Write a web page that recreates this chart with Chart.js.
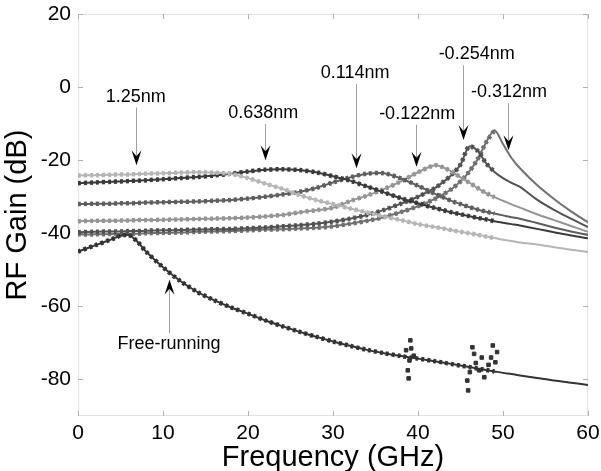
<!DOCTYPE html>
<html>
<head>
<meta charset="utf-8">
<script src="https://cdn.jsdelivr.net/npm/chart.js@4.4.1/dist/chart.umd.min.js"></script>
<style>
  html, body { margin: 0; padding: 0; background: #ffffff; }
  #wrap { width: 601px; height: 471px; }
</style>
</head>
<body>
<div id="wrap"><canvas id="c" width="601" height="471"></canvas></div>
<script>
// ---------- DATA ----------
const freqGHz = [0,2,4,5,6,7,8,10,12,14,16,18,20,22,24,26,28,30,32,34,36,38,40,42,43,44,45,46,47,48,49,50,51,52,54,56,58,60];

const gainFree = [-45,-43.3,-41.6,-40.7,-40.5,-42.3,-45,-49.3,-53,-56,-58.3,-60.3,-62,-63.8,-65.4,-66.9,-68.3,-69.6,-70.8,-71.9,-72.8,-73.6,-74.3,-75,-75.4,-75.8,-76.2,-76.6,-77,-77.4,-77.8,-78.2,-78.5,-78.9,-79.6,-80.3,-80.9,-81.5];
const gain125 = [-24.2,-24.1,-24,-23.9,-23.9,-23.8,-23.7,-23.6,-23.4,-23.3,-23.4,-23.8,-24.9,-26.4,-27.8,-29.5,-30.9,-32,-33.2,-34.3,-35.4,-36.4,-37.5,-38.3,-38.7,-39.2,-39.6,-40,-40.4,-40.9,-41.3,-41.8,-42.1,-42.5,-43.1,-43.8,-44.5,-45.1];
const gain0638 = [-26.3,-26.1,-25.9,-25.8,-25.7,-25.6,-25.5,-25.2,-24.9,-24.6,-24.2,-23.7,-23.1,-22.6,-22.5,-22.7,-23.3,-24.4,-25.6,-27.2,-28.8,-30.4,-31.8,-33.1,-33.7,-34.3,-34.8,-35.3,-35.8,-36.2,-36.7,-37.1,-37.5,-37.9,-38.8,-39.7,-40.6,-41.4];
const gain0114 = [-32,-31.9,-31.9,-31.8,-31.8,-31.7,-31.6,-31.5,-31.4,-31.3,-31.1,-30.9,-30.5,-30,-29.4,-28.7,-27.6,-26.1,-24.7,-23.7,-23.6,-25,-27,-29.2,-30.2,-31.2,-32,-32.8,-33.5,-34.1,-34.6,-35.1,-35.6,-36,-37.2,-38.4,-39.5,-40.5];
const gainM0122 = [-36.7,-36.6,-36.6,-36.5,-36.5,-36.4,-36.4,-36.3,-36.2,-36.1,-36,-35.9,-35.7,-35.4,-35,-34.3,-33.7,-33,-31.2,-29.7,-27.9,-25.8,-23.3,-21.4,-22,-23.2,-24.7,-26.1,-27.6,-29,-30.1,-31.1,-32.1,-33,-34.8,-36.4,-38,-39.6];
const gainM0254 = [-39.7,-39.6,-39.5,-39.5,-39.4,-39.4,-39.3,-39.2,-39.1,-39,-38.9,-38.8,-38.6,-38.4,-38.1,-37.8,-37.4,-36.8,-36,-35,-33.6,-31.9,-30,-27.6,-25.9,-23.9,-21.2,-16.3,-17.4,-20.8,-23.2,-24.9,-26.2,-27.3,-30.8,-33.6,-36,-38.3];
const gainM0312 = [-40.3,-40.3,-40.2,-40.2,-40.1,-40.1,-40,-39.9,-39.8,-39.6,-39.5,-39.4,-39.2,-39,-38.9,-38.7,-38.5,-38.1,-37.4,-36.6,-35.6,-34.2,-32.6,-30.6,-29.3,-27.8,-25.8,-23.2,-19.8,-15.2,-11.8,-15.6,-19.4,-22.2,-26.8,-30.6,-34,-37];

// scattered measured points of the free-running response
const noiseFreq = [38.6,38.8,38.9,39.0,39.1,39.2,39.5,45.8,45.9,46.1,46.4,46.6,46.8,47.2,47.5,47.8,48.3,48.6,48.8,49.1,49.3];
const noiseGain = [-72,-77.5,-79.7,-74.8,-69.3,-71.5,-73.5,-80.3,-83,-78,-71.2,-73,-75.5,-77.5,-74,-79.4,-76,-74,-70.7,-75.3,-72.5];

const measuredMaxGHz = 49;
const xTicks = [0,10,20,30,40,50,60];
const yTicks = [-80,-60,-40,-20,0,20];

const curveNames = ['Free-running','1.25nm','0.638nm','0.114nm','-0.122nm','-0.254nm','-0.312nm'];
const curveGains = [gainFree, gain125, gain0638, gain0114, gainM0122, gainM0254, gainM0312];

// ---------- STYLE ----------
const curveColors = ['#333333','#b5b5b5','#3a3a3a','#5e5e5e','#959595','#525252','#707070'];

// annotation placement (layout, in axis units)
const annotations = [
  {text:'1.25nm',       tx:6.8,  ty:-2.6,  lx:6.8,  tip:-21.4, dir:'down'},
  {text:'0.638nm',      tx:21.8, ty:-7.1,  lx:22.0, tip:-20.0, dir:'down'},
  {text:'0.114nm',      tx:32.6, ty:3.8,   lx:32.7, tip:-22.2, dir:'down'},
  {text:'-0.122nm',     tx:39.9, ty:-7.3,  lx:39.8, tip:-21.8, dir:'down'},
  {text:'-0.254nm',     tx:46.9, ty:9.0,   lx:45.3, tip:-14.5, dir:'down'},
  {text:'-0.312nm',     tx:50.7, ty:-1.4,  lx:50.6, tip:-17.3, dir:'down'},
  {text:'Free-running', tx:10.7, ty:-70.4, lx:10.7, tip:-52.7, dir:'up'}
];

const FONT = '"Liberation Sans", Arial, Helvetica, sans-serif';

// ---------- DATASETS ----------
const datasets = [];
curveGains.forEach((g, i) => {
  const pts = freqGHz.map((f, k) => ({x: f, y: g[k]}));
  datasets.push({
    label: curveNames[i] + ' sim',
    data: pts,
    borderColor: curveColors[i],
    borderWidth: 2,
    pointRadius: 0,
    tension: 0.3,
    fill: false
  });
  datasets.push({
    label: curveNames[i] + ' meas',
    data: pts.filter(p => p.x <= measuredMaxGHz),
    borderColor: curveColors[i],
    borderWidth: 4.5,
    borderDash: [3, 3],
    pointRadius: 0,
    tension: 0.3,
    fill: false
  });
});
datasets.push({
  label: 'Free-running meas scatter',
  type: 'scatter',
  data: noiseFreq.map((f, k) => ({x: f, y: noiseGain[k]})),
  backgroundColor: curveColors[0],
  borderColor: curveColors[0],
  pointStyle: 'rect',
  pointRadius: 2.5,
  showLine: false
});

// ---------- PLUGINS ----------
const framePlugin = {
  id: 'frame',
  beforeDatasetsDraw(chart) {
    const {ctx, chartArea: a, scales: {x, y}} = chart;
    ctx.save();
    ctx.strokeStyle = '#c4c4c4';
    ctx.lineWidth = 1;
    ctx.setLineDash([1, 1]);
    ctx.strokeRect(a.left + 0.5, a.top + 0.5, a.right - a.left - 1, a.bottom - a.top - 1);
    ctx.setLineDash([]);
    ctx.strokeStyle = '#b0b0b0';
    ctx.beginPath();
    yTicks.forEach(v => {
      const py = Math.round(y.getPixelForValue(v)) + 0.5;
      ctx.moveTo(a.left, py); ctx.lineTo(a.left + 5, py);
      ctx.moveTo(a.right, py); ctx.lineTo(a.right - 5, py);
    });
    xTicks.forEach(v => {
      const px = Math.round(x.getPixelForValue(v)) + 0.5;
      ctx.moveTo(px, a.bottom); ctx.lineTo(px, a.bottom - 5);
      ctx.moveTo(px, a.top); ctx.lineTo(px, a.top + 5);
    });
    ctx.stroke();
    ctx.restore();
  }
};

const annotPlugin = {
  id: 'annot',
  afterDatasetsDraw(chart) {
    const {ctx, scales: {x, y}} = chart;
    ctx.save();
    ctx.font = '18px ' + FONT;
    ctx.textAlign = 'center';
    ctx.textBaseline = 'middle';
    annotations.forEach(an => {
      const tx = x.getPixelForValue(an.tx), ty = y.getPixelForValue(an.ty);
      const lx = Math.round(x.getPixelForValue(an.lx)) + 0.5;
      const tip = y.getPixelForValue(an.tip);
      ctx.fillStyle = '#000';
      ctx.fillText(an.text, tx, ty);
      const s = an.dir === 'down' ? 1 : -1;
      const lineStart = ty + s * 11;
      const headLen = 15;
      ctx.strokeStyle = '#a0a0a0';
      ctx.lineWidth = 1;
      ctx.beginPath();
      ctx.moveTo(lx, lineStart);
      ctx.lineTo(lx, tip - s * 8);
      ctx.stroke();
      ctx.fillStyle = '#000';
      ctx.beginPath();
      ctx.moveTo(lx, tip);
      ctx.lineTo(lx - 5, tip - s * headLen);
      ctx.lineTo(lx, tip - s * 9);
      ctx.lineTo(lx + 5, tip - s * headLen);
      ctx.closePath();
      ctx.fill();
    });
    ctx.restore();
  }
};

// ---------- CHART ----------
new Chart(document.getElementById('c'), {
  type: 'line',
  data: { datasets },
  options: {
    responsive: false,
    animation: false,
    events: [],
    layout: { padding: { top: 14, right: 13, left: 0, bottom: 0 } },
    plugins: { legend: { display: false }, tooltip: { enabled: false } },
    scales: {
      x: {
        type: 'linear',
        min: 0, max: 60,
        afterBuildTicks: s => { s.ticks = xTicks.map(v => ({value: v})); },
        afterFit: s => { s.height = 55; s.paddingLeft = 0; s.paddingRight = 0; },
        grid: { display: false, drawTicks: false },
        border: { display: false },
        ticks: { color: '#000', font: { family: FONT, size: 21 }, padding: 5, maxRotation: 0 },
        title: { display: true, text: 'Frequency (GHz)', color: '#000', font: { family: FONT, size: 29 }, padding: { top: 0, bottom: -4 } }
      },
      y: {
        type: 'linear',
        min: -90, max: 20,
        afterBuildTicks: s => { s.ticks = yTicks.map(v => ({value: v})); },
        afterFit: s => { s.width = 78; s.paddingTop = 0; s.paddingBottom = 0; },
        grid: { display: false, drawTicks: false },
        border: { display: false },
        ticks: { color: '#000', font: { family: FONT, size: 21 }, padding: 7 },
        title: { display: true, text: 'RF Gain (dB)', color: '#000', font: { family: FONT, size: 29 }, padding: { top: 1, bottom: 0 } }
      }
    }
  },
  plugins: [framePlugin, annotPlugin]
});
</script>
</body>
</html>
